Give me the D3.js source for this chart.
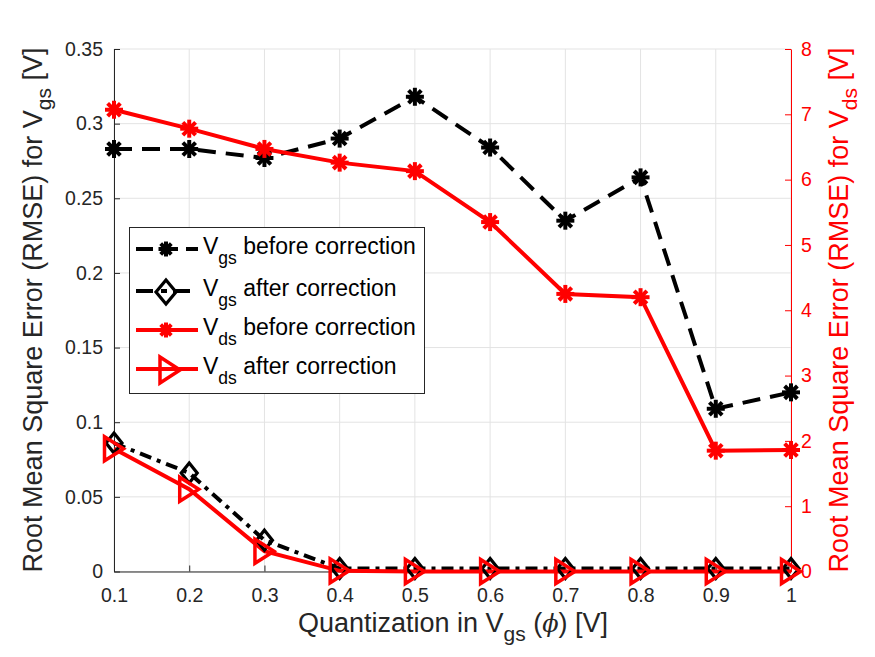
<!DOCTYPE html>
<html><head><meta charset="utf-8">
<script src="https://cdn.jsdelivr.net/npm/d3@7"></script>
<style>body{margin:0;background:#fff}svg{font-family:"Liberation Sans",Arial,sans-serif}</style>
</head><body><svg id="c" width="875" height="657"></svg>
<script>
const xVals = [0.1,0.2,0.3,0.4,0.5,0.6,0.7,0.8,0.9,1.0];
const vgsBefore = [0.283,0.283,0.277,0.290,0.318,0.284,0.235,0.264,0.109,0.120];
const vgsAfter = [0.086,0.066,0.021,0.002,0.002,0.002,0.002,0.002,0.002,0.002];
const vdsBefore = [7.07,6.78,6.47,6.26,6.13,5.35,4.25,4.20,1.85,1.86];
const vdsAfter = [1.88,1.26,0.31,0.01,0,0,0,0,0,0];
const xTicks = [0.1,0.2,0.3,0.4,0.5,0.6,0.7,0.8,0.9,1];
const yLeftTicks = [0,0.05,0.1,0.15,0.2,0.25,0.3,0.35];
const yRightTicks = [0,1,2,3,4,5,6,7,8];

const svg = d3.select("#c");
const L=114, R=791, T=49, B=571.5;
const x = d3.scaleLinear().domain([0.1,1]).range([L,R]);
const yL = d3.scaleLinear().domain([0,0.35]).range([B,T]);
const yR = d3.scaleLinear().domain([0,8]).range([B,T]);
const red="#ff0000";
const TF=19.5;

// grid
const g = svg.append("g");
xTicks.forEach(t=>g.append("line").attr("x1",x(t)).attr("x2",x(t)).attr("y1",T).attr("y2",B).attr("stroke","#e3e3e3").attr("stroke-width",1));
yLeftTicks.forEach(t=>g.append("line").attr("x1",L).attr("x2",R).attr("y1",yL(t)).attr("y2",yL(t)).attr("stroke","#e3e3e3").attr("stroke-width",1));

// axes
const ax = svg.append("g").attr("transform",`translate(0,${B})`).call(d3.axisBottom(x).tickValues(xTicks).tickSizeInner(-6).tickSizeOuter(0).tickPadding(17).tickFormat(d=>d===1?"1":d3.format(".1f")(d)));
ax.selectAll("text").attr("font-size",TF).attr("fill","#262626").attr("font-family","Liberation Sans, Arial");
ax.selectAll("line,path").attr("stroke","#262626");
const al = svg.append("g").attr("transform",`translate(${L},0)`).call(d3.axisLeft(yL).tickValues(yLeftTicks).tickSizeInner(-6).tickSizeOuter(0).tickPadding(11).tickFormat(d=>d===0?"0":String(+d.toFixed(2))));
al.selectAll("text").attr("font-size",TF).attr("fill","#262626").attr("font-family","Liberation Sans, Arial");
al.selectAll("line,path").attr("stroke","#262626");
const ar = svg.append("g").attr("transform",`translate(${R},0)`).call(d3.axisRight(yR).tickValues(yRightTicks).tickSizeInner(-6).tickSizeOuter(0).tickPadding(10));
ar.selectAll("text").attr("font-size",TF).attr("fill",red).attr("font-family","Liberation Sans, Arial");
ar.selectAll("line,path").attr("stroke",red);

// markers
function star(sel,cx,cy,r,color){
  const gg=sel.append("g").attr("transform",`translate(${cx},${cy})`);
  [0,45,90,135].forEach(a=>{
    const rad=a*Math.PI/180;
    gg.append("line").attr("x1",-r*Math.cos(rad)).attr("y1",-r*Math.sin(rad)).attr("x2",r*Math.cos(rad)).attr("y2",r*Math.sin(rad)).attr("stroke",color).attr("stroke-width",4);
  });
}
function diamond(sel,cx,cy,w,h,color){
  sel.append("path").attr("d",`M${cx},${cy-h}L${cx+w},${cy}L${cx},${cy+h}L${cx-w},${cy}Z`).attr("fill","none").attr("stroke",color).attr("stroke-width",3.2);
}
function tri(sel,cx,cy,w,h,color){
  sel.append("path").attr("d",`M${cx+w},${cy}L${cx-w},${cy-h}L${cx-w},${cy+h}Z`).attr("fill","none").attr("stroke",color).attr("stroke-width",3.5);
}

const line=(ys,sc)=>d3.line().x((d,i)=>x(xVals[i])).y(d=>sc(d))(ys);
const plot=svg.append("g");
plot.append("path").attr("d",line(vgsBefore,yL)).attr("fill","none").attr("stroke","#000").attr("stroke-width",4).attr("stroke-dasharray","18,10");
plot.append("path").attr("d",line(vgsAfter,yL)).attr("fill","none").attr("stroke","#000").attr("stroke-width",4).attr("stroke-dasharray","12,6,4,6");
plot.append("path").attr("d",line(vdsBefore,yR)).attr("fill","none").attr("stroke",red).attr("stroke-width",4);
plot.append("path").attr("d",line(vdsAfter,yR)).attr("fill","none").attr("stroke",red).attr("stroke-width",4);
vgsBefore.forEach((v,i)=>star(plot,x(xVals[i]),yL(v),9,"#000"));
vgsAfter.forEach((v,i)=>diamond(plot,x(xVals[i]),yL(v),8,10,"#000"));
vdsBefore.forEach((v,i)=>star(plot,x(xVals[i]),yR(v),9,red));
vdsAfter.forEach((v,i)=>tri(plot,x(xVals[i]),yR(v),9.5,12,red));

// legend
const lg=svg.append("g");
lg.append("rect").attr("x",129.5).attr("y",227.5).attr("width",295).attr("height",166).attr("fill","#fff").attr("stroke","#262626").attr("stroke-width",1);
const items=[
 {c:"#000",dash:"17,8",m:"star",sub:"gs",txt:"before correction"},
 {c:"#000",dash:"17,8,6,6",m:"diamond",sub:"gs",txt:"after correction"},
 {c:red,dash:null,m:"star",sub:"ds",txt:"before correction"},
 {c:red,dash:null,m:"tri",sub:"ds",txt:"after correction"}];
const rowY=[249,291,330,369];
items.forEach((it,i)=>{
  const cy=rowY[i];
  lg.append("line").attr("x1",136).attr("x2",198).attr("y1",cy).attr("y2",cy).attr("stroke",it.c).attr("stroke-width",4).attr("stroke-dasharray",it.dash);
  if(it.m==="star") star(lg,166,cy,7.5,it.c);
  else if(it.m==="diamond") diamond(lg,166,cy+1,10,12,it.c);
  else tri(lg,170,cy+1,10,13,it.c);
  const t=lg.append("text").attr("x",203).attr("y",cy+5).attr("font-size",23).attr("fill","#000");
  t.append("tspan").text("V");
  t.append("tspan").attr("dy",10).attr("font-size",17.5).text(it.sub);
  t.append("tspan").attr("dy",-10).text(" "+it.txt);
});

// axis labels
const xl=svg.append("text").attr("x",453).attr("y",632).attr("text-anchor","middle").attr("font-size",27).attr("fill","#262626");
xl.append("tspan").text("Quantization in V");
xl.append("tspan").attr("dy",9).attr("font-size",21).text("gs");
xl.append("tspan").attr("dy",-9).text(" (");
xl.append("tspan").attr("font-style","italic").attr("font-family","DejaVu Serif").attr("font-size",24).text("ϕ");
xl.append("tspan").text(") [V]");

const yl=svg.append("text").attr("transform","translate(42,310) rotate(-90)").attr("text-anchor","middle").attr("font-size",27).attr("fill","#262626");
yl.append("tspan").text("Root Mean Square Error (RMSE) for V");
yl.append("tspan").attr("dy",9).attr("font-size",21).text("gs");
yl.append("tspan").attr("dy",-9).text(" [V]");

const yr=svg.append("text").attr("transform","translate(848,310) rotate(-90)").attr("text-anchor","middle").attr("font-size",27).attr("fill",red);
yr.append("tspan").text("Root Mean Square Error (RMSE) for V");
yr.append("tspan").attr("dy",9).attr("font-size",21).text("ds");
yr.append("tspan").attr("dy",-9).text(" [V]");
</script></body></html>
